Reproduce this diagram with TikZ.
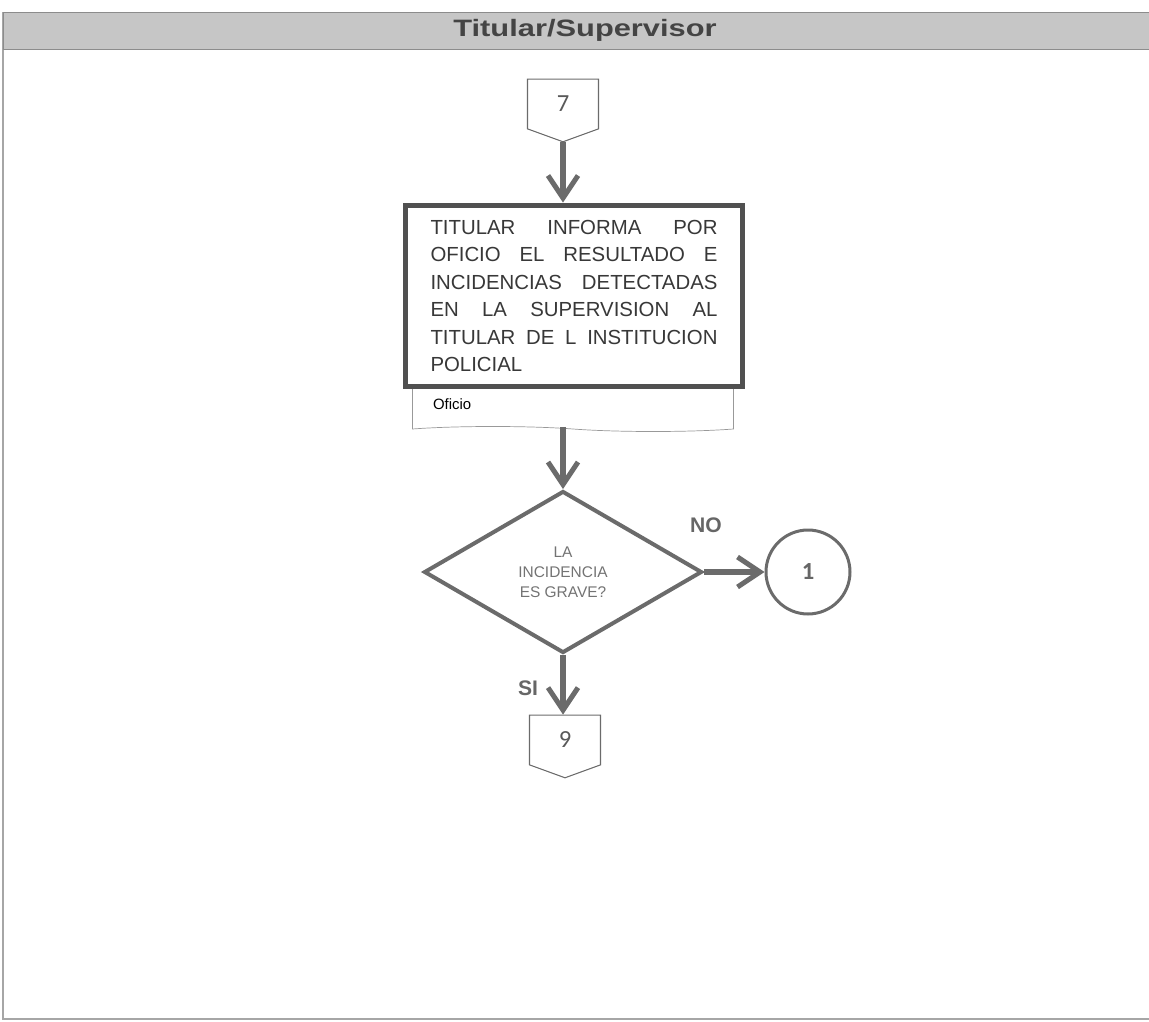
\documentclass[tikz,border=0pt]{standalone}
\usepackage{fontspec}
\setmainfont{Liberation Sans}
\newfontfamily\digitfont{Carlito}
\usepackage{tikz}
\usetikzlibrary{arrows.meta,positioning,calc,shapes.geometric,shapes.symbols}
\definecolor{linegray}{HTML}{6B6B6B}
\definecolor{boxgray}{HTML}{505050}
\definecolor{bargray}{HTML}{C6C6C6}
\definecolor{txtgray}{HTML}{444444}
\tikzset{
  headbar/.style={draw=black!45, fill=bargray, minimum width=23cm, minimum height=0.74cm,
               inner sep=0pt, text=txtgray, font=\bfseries\fontsize{13.5}{16}\selectfont},
  procbox/.style={draw=boxgray, line width=0.1cm, fill=white, minimum width=6.76cm,
               minimum height=3.64cm, text width=5.74cm, align=left, inner sep=0pt,
               font=\fontsize{11.6}{15.6}\selectfont, text=black!78},
  docbox/.style={draw=black!40, shape=tape, tape bend top=none, tape bend bottom=out and in,
               tape bend height=0.1cm, minimum width=6.42cm, minimum height=1.0cm,
               text width=5.6cm, align=left, font=\fontsize{8.5}{10}\selectfont},
  offpage/.style={draw=linegray, semithick, shape=signal, signal to=south, signal pointer angle=140,
               minimum width=1.42cm, minimum height=1.04cm, inner sep=0pt,
               font=\digitfont\fontsize{14}{15}\selectfont, text=black!65},
  decbox/.style={draw=linegray, line width=0.08cm, shape=diamond, minimum width=5.56cm,
               minimum height=3.24cm, inner sep=0pt, align=center,
               font=\fontsize{8.8}{11.4}\selectfont, text=black!55},
  conn/.style={draw=linegray, line width=0.06cm, circle, minimum size=1.68cm,
               font=\digitfont\bfseries\fontsize{14}{15}\selectfont, text=black!60},
  flow/.style={-{Straight Barb[length=0.45cm,width=0.6cm,line width=0.1cm]}, line width=0.12cm,
               draw=linegray},
  lbl/.style={font=\bfseries\fontsize{12}{14}\selectfont, text=black!60},
}
\begin{document}
\begin{tikzpicture}[x=0.02cm, y=-0.02cm]
  \useasboundingbox (0,0) rectangle (1149,1021);
  \draw[black!35, semithick] (3,12) -- (3,1019) -- (1160,1019);
  \node[headbar] (head) at (578,30.5) {\hspace{0.28cm}\scalebox{1.3}[1]{Titular/Supervisor}};
  \node[offpage] (c7) at (563,104) {7};
  \node[docbox] (ofi) at (573,404) {Oficio};
  \node[procbox] (proc) at (574,296) {TITULAR \hfill INFORMA \hfill POR\\
    OFICIO \hfill EL \hfill RESULTADO \hfill E\\
    INCIDENCIAS \hfill DETECTADAS\\
    EN \hfill LA \hfill SUPERVISION \hfill AL\\
    TITULAR \hfill DE \hfill L \hfill INSTITUCION\\
    POLICIAL};
  \node[decbox] (dec) at (563,572) {LA\\INCIDENCIA\\ES GRAVE?};
  \node[conn] (c1) at (808,572) {1};
  \node[offpage] (c9) at (565,740) {9};
  \draw[flow] (c7.south) -- (c7.south |- proc.north);
  \draw[flow] (ofi.south -| dec.north) -- (dec.north);
  \draw[flow] (dec.east) -- (c1.west);
  \draw[flow] (dec.south) -- (c9.north -| dec.south);
  \node[lbl] (no) at (706,525) {NO};
  \node[lbl] (si) at (528,688) {SI};
\end{tikzpicture}
\end{document}
